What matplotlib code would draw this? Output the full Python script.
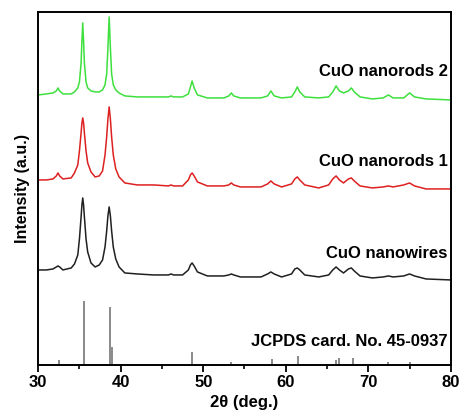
import matplotlib
matplotlib.use("Agg")
import matplotlib.pyplot as plt
from matplotlib.ticker import MultipleLocator

plt.rcParams['font.family'] = ['Liberation Sans', 'DejaVu Sans']

# 2theta grid (deg.) shared by the three patterns
two_theta = [30, 31, 31.8, 32.2, 32.4, 32.6, 33.0, 34.0,
             34.4, 34.8, 35.0, 35.2, 35.3, 35.4, 35.5, 35.6, 35.8, 36.0, 36.4, 36.9,
             37.4, 37.8, 38.1, 38.3, 38.45, 38.6, 38.75, 38.9, 39.1, 39.4, 39.8,
             40.5, 42, 44, 45.8, 46.1, 46.4, 47.5, 48.2, 48.45, 48.65, 48.9, 49.3,
             50.5, 52.5, 53.1, 53.4, 53.7, 54.5, 57.0, 57.8, 58.2, 58.6, 59.5, 60.7,
             61.1, 61.4, 61.7, 62.3, 64.0, 65.2, 65.7, 66.1, 66.5, 67.0, 67.6, 67.95,
             68.3, 69.0, 70.5, 71.8, 72.45, 73.0, 74.3, 75.0, 75.6, 77, 80]

# intensities (a.u., already offset for stacking)
nanorods2 = [270, 271, 272, 274, 277, 274, 271, 271,
             273, 277, 283, 302, 324, 342, 324, 302, 283, 277, 274, 273,
             273, 275, 280, 291, 317, 348, 317, 291, 280, 275, 272,
             269, 268, 268, 268, 269, 268, 268, 271, 278, 284, 277, 270,
             267, 267, 269, 272, 269, 267, 267, 269, 274, 269, 267, 268,
             273, 278, 273, 268, 267, 268, 273, 279, 274, 272, 274, 277,
             273, 268, 266, 267, 270, 267, 267, 272, 268, 266, 265]

nanorods1 = [185, 185, 186, 189, 192, 189, 186, 187,
             192, 200, 214, 232, 242, 247, 242, 232, 214, 202, 193, 188,
             189, 194, 210, 228, 246, 258, 246, 228, 210, 196, 188,
             182, 180, 180, 179, 180, 179, 179, 185, 190, 192, 189, 183,
             179, 179, 180, 182, 180, 178, 178, 181, 184, 181, 178, 181,
             186, 188, 185, 180, 177, 180, 186, 189, 185, 182, 186, 187,
             184, 179, 177, 178, 179, 178, 180, 182, 179, 176, 176]

nanowires = [95, 95, 96, 98, 99, 98, 95, 97,
             101, 110, 126, 148, 160, 167, 160, 148, 126, 113, 102, 98,
             100, 105, 118, 134, 149, 158, 149, 134, 118, 106, 98,
             92, 91, 90, 90, 91, 90, 90, 95, 100, 102, 99, 93,
             89, 89, 90, 91, 90, 88, 88, 91, 93, 91, 88, 91,
             96, 97, 95, 90, 88, 90, 95, 98, 95, 92, 96, 97,
             94, 89, 87, 88, 89, 88, 89, 91, 89, 86, 85]

# JCPDS 45-0937 reference lines
jcpds_pos = [32.5, 35.5, 38.7, 38.9, 48.7, 53.4, 58.3, 61.5, 66.05, 66.4, 68.1, 72.4, 75.0]
jcpds_int = [5, 64, 58, 18, 13, 3, 6, 9, 5, 7, 7, 3, 3]

labels = ['CuO nanorods 2', 'CuO nanorods 1', 'CuO nanowires', 'JCPDS card. No. 45-0937']
label_y = [293, 203, 111, 23]

fig = plt.figure(figsize=(4.6, 4.11), dpi=100)
ax = fig.add_axes([0.083, 0.112, 0.897, 0.859])

ax.plot(two_theta, nanorods2, color='#3ee03e', lw=1.1)
ax.plot(two_theta, nanorods1, color='#dd2020', lw=1.1)
ax.plot(two_theta, nanowires, color='#202020', lw=1.1)
ax.vlines(jcpds_pos, 0, jcpds_int, color='#777777', lw=1.2)

for txt, yy in zip(labels, label_y):
    ax.text(79.6, yy, txt, ha='right', va='center', fontsize=12, fontweight='bold')

ax.set_xlim(30, 80)
ax.set_ylim(0, 353)
ax.set_yticks([])
ax.xaxis.set_major_locator(MultipleLocator(10))
ax.xaxis.set_minor_locator(MultipleLocator(5))
ax.tick_params(axis='x', which='major', direction='out', length=5, width=1.3,
               labelsize=12, pad=2)
ax.tick_params(axis='x', which='minor', direction='out', length=3, width=1.2)
for lab in ax.get_xticklabels():
    lab.set_fontweight('bold')
for sp in ax.spines.values():
    sp.set_linewidth(1.4)

ax.set_xlabel('2\u03b8 (deg.)', fontsize=12, fontweight='bold', labelpad=4)
ax.set_ylabel('Intensity (a.u.)', fontsize=11.5, fontweight='bold', labelpad=6)

fig.savefig('out.png', dpi=100)
